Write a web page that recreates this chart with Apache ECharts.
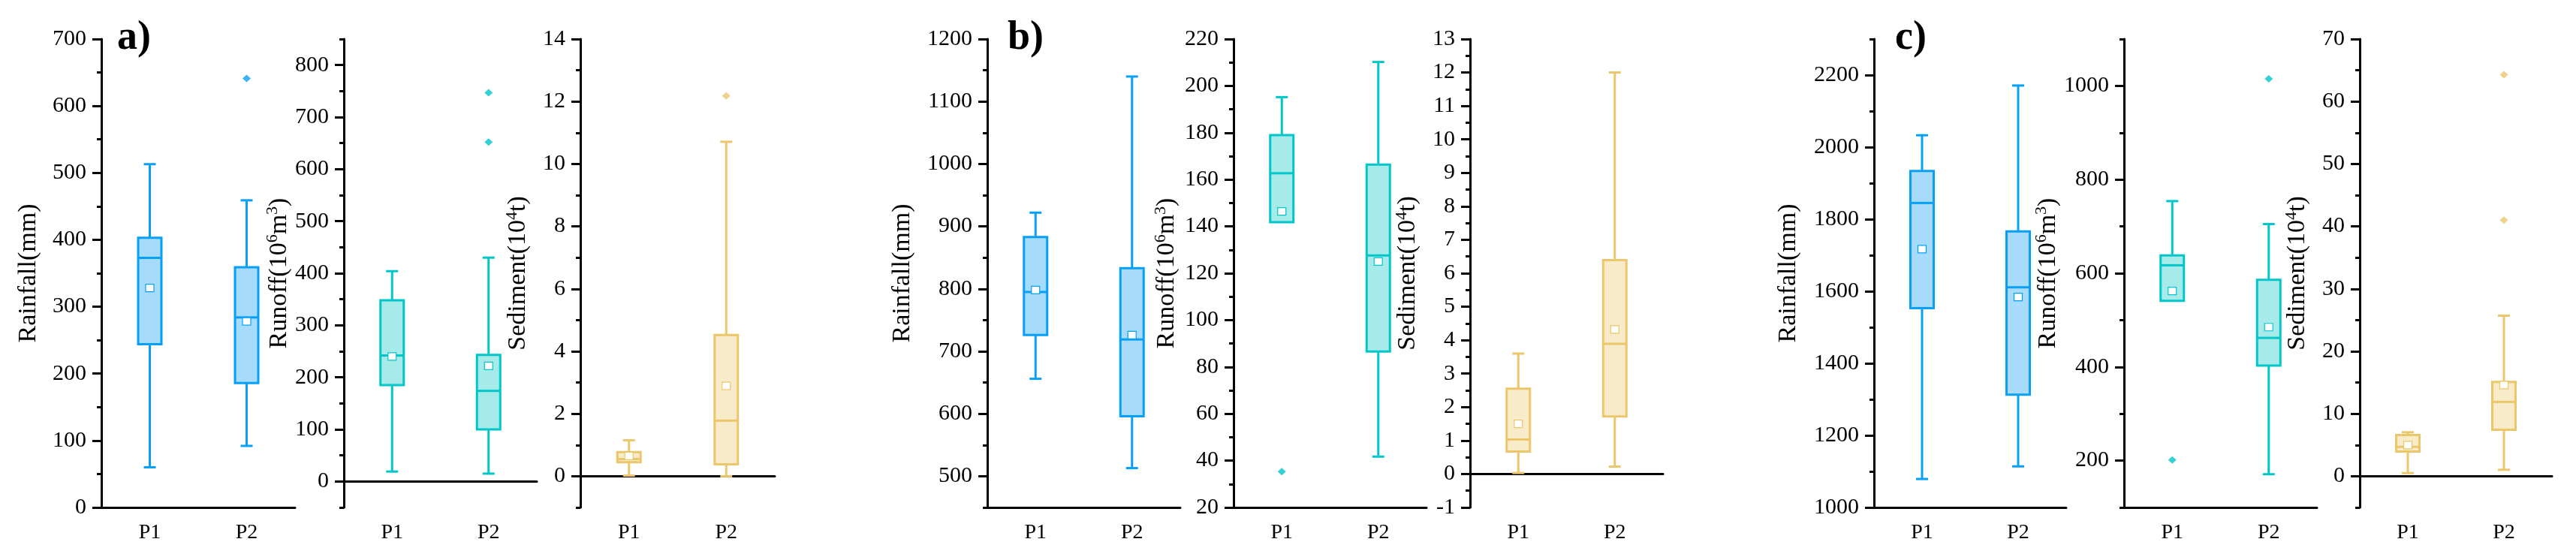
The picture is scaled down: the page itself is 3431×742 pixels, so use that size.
<!DOCTYPE html>
<html><head><meta charset="utf-8">
<script src="https://cdn.jsdelivr.net/npm/echarts@6/dist/echarts.min.js"></script>
<style>html,body{margin:0;padding:0;background:#fff}#c{width:3431px;height:742px}</style>
</head><body><div id="c"></div>
<script>
const categories = ['P1', 'P2'];

// box statistics: [min, Q1, median, Q3, max]
const rainfallA = [[60, 244, 373, 403, 513], [92, 186, 284, 359, 459]];
const rainfallAMean = [328, 278];
const rainfallAOutliers = [[], [641]];
const runoffA = [[19, 185, 242, 348, 404], [15, 100, 174, 243, 430]];
const runoffAMean = [240, 222];
const runoffAOutliers = [[], [652, 747]];
const sedimentA = [[0.02, 0.45, 0.55, 0.77, 1.15], [0.0, 0.38, 1.78, 4.52, 10.71]];
const sedimentAMean = [0.65, 2.89];
const sedimentAOutliers = [[], [12.18]];

const rainfallB = [[656, 726, 795, 883, 922], [513, 596, 719, 833, 1140]];
const rainfallBMean = [798, 726];
const rainfallBOutliers = [[], []];
const runoffB = [[141.8, 141.8, 162.7, 179, 195.2], [41.7, 86.6, 127.6, 166.4, 210.2]];
const runoffBMean = [146.4, 125];
const runoffBOutliers = [[35.3], []];
const sedimentB = [[0.03, 0.67, 1.03, 2.55, 3.6], [0.22, 1.72, 3.89, 6.39, 12.0]];
const sedimentBMean = [1.5, 4.32];
const sedimentBOutliers = [[], []];

const rainfallC = [[1079, 1553, 1845, 1934, 2033], [1114, 1313, 1611, 1766, 2171]];
const rainfallCMean = [1717, 1584];
const rainfallCOutliers = [[], []];
const runoffC = [[541, 541, 617, 638, 754], [171, 403, 462, 586, 705]];
const runoffCMean = [562, 485];
const runoffCOutliers = [[201.5], [1015]];
const sedimentC = [[0.5, 3.95, 4.7, 6.59, 7.04], [1.03, 7.45, 11.9, 15.1, 25.7]];
const sedimentCMean = [5.0, 14.6];
const sedimentCOutliers = [[], [41.0, 64.3]];

// axis tick labels (major ticks)
const rainfallATicks = [0, 100, 200, 300, 400, 500, 600, 700];
const runoffATicks = [0, 100, 200, 300, 400, 500, 600, 700, 800];
const sedimentATicks = [0, 2, 4, 6, 8, 10, 12, 14];
const rainfallBTicks = [500, 600, 700, 800, 900, 1000, 1100, 1200];
const runoffBTicks = [20, 40, 60, 80, 100, 120, 140, 160, 180, 200, 220];
const sedimentBTicks = [-1, 0, 1, 2, 3, 4, 5, 6, 7, 8, 9, 10, 11, 12, 13];
const rainfallCTicks = [1000, 1200, 1400, 1600, 1800, 2000, 2200];
const runoffCTicks = [200, 400, 600, 800, 1000];
const sedimentCTicks = [0, 10, 20, 30, 40, 50, 60, 70];

const panelLabels = ['a)', 'b)', 'c)'];
const axisNames = {
  rain: 'Rainfall(mm)',
  runoff: '{a|Runoff(10}{s|6}{a|m}{s|3}{a|)}',
  sed: '{a|Sediment(10}{s|4}{a|t)}'
};

const FONT = '"Liberation Serif", "Times New Roman", serif';
const COL = {
  rain: { stroke: '#08a0f7', fill: '#a6dbfc' },
  runoff: { stroke: '#00c6c9', fill: '#a6ebea' },
  sed: { stroke: '#ecc66b', fill: '#f7ebc9' }
};

const panels = [
  { kind: 'rain', stats: rainfallA, mean: rainfallAMean, out: rainfallAOutliers, ticks: rainfallATicks, min: 0, max: 700, minor: 50, left: 135, width: 258, gap: 80 },
  { kind: 'runoff', stats: runoffA, mean: runoffAMean, out: runoffAOutliers, ticks: runoffATicks, min: -50, max: 850, minor: 50, left: 458, width: 257, gap: 64 },
  { kind: 'sed', stats: sedimentA, mean: sedimentAMean, out: sedimentAOutliers, ticks: sedimentATicks, min: -1, max: 14, minor: 1, left: 773, width: 259, gap: 63 },
  { kind: 'rain', stats: rainfallB, mean: rainfallBMean, out: rainfallBOutliers, ticks: rainfallBTicks, min: 450, max: 1200, minor: 50, left: 1315, width: 257, gap: 96 },
  { kind: 'runoff', stats: runoffB, mean: runoffBMean, out: runoffBOutliers, ticks: runoffBTicks, min: 20, max: 220, minor: 10, left: 1643, width: 257, gap: 69 },
  { kind: 'sed', stats: sedimentB, mean: sedimentBMean, out: sedimentBOutliers, ticks: sedimentBTicks, min: -1, max: 13, minor: 0.5, left: 1958, width: 257, gap: 63 },
  { kind: 'rain', stats: rainfallC, mean: rainfallCMean, out: rainfallCOutliers, ticks: rainfallCTicks, min: 1000, max: 2300, minor: 100, left: 2496, width: 256, gap: 97 },
  { kind: 'runoff', stats: runoffC, mean: runoffCMean, out: runoffCOutliers, ticks: runoffCTicks, min: 100, max: 1100, minor: 100, left: 2829, width: 257, gap: 74 },
  { kind: 'sed', stats: sedimentC, mean: sedimentCMean, out: sedimentCOutliers, ticks: sedimentCTicks, min: -5, max: 70, minor: 5, left: 3143, width: 256, gap: 63 }
];

function boxRender(stroke, fill) {
  return function (params, api) {
    const c = api.value(0);
    const mn = api.value(1), q1 = api.value(2), md = api.value(3), q3 = api.value(4), mx = api.value(5), mean = api.value(6);
    const x = api.coord([c, md])[0];
    const y = v => api.coord([c, v])[1];
    const bw = 31, cw = 16;
    const ls = { stroke: stroke, lineWidth: 3 };
    const ch = [];
    if (mx > q3) {
      ch.push({ type: 'line', shape: { x1: x, y1: y(q3), x2: x, y2: y(mx) }, style: ls });
      ch.push({ type: 'line', shape: { x1: x - cw / 2, y1: y(mx), x2: x + cw / 2, y2: y(mx) }, style: ls });
    }
    if (mn < q1) {
      ch.push({ type: 'line', shape: { x1: x, y1: y(q1), x2: x, y2: y(mn) }, style: ls });
      ch.push({ type: 'line', shape: { x1: x - cw / 2, y1: y(mn), x2: x + cw / 2, y2: y(mn) }, style: ls });
    }
    ch.push({ type: 'rect', shape: { x: x - bw / 2, y: y(q3), width: bw, height: y(q1) - y(q3) }, style: { fill: fill, stroke: stroke, lineWidth: 3 } });
    ch.push({ type: 'line', shape: { x1: x - bw / 2, y1: y(md), x2: x + bw / 2, y2: y(md) }, style: ls });
    ch.push({ type: 'rect', shape: { x: x - 5.5, y: y(mean) - 5, width: 11, height: 10 }, style: { fill: '#fff', stroke: stroke, lineWidth: 1.2 } });
    return { type: 'group', children: ch };
  };
}

const GRID_TOP = 52, GRID_BOTTOM = 66;
const grid = [], xAxis = [], yAxis = [], series = [];
panels.forEach((p, i) => {
  const col = COL[p.kind];
  grid.push({ left: p.left, width: p.width, top: GRID_TOP, bottom: GRID_BOTTOM, containLabel: false });
  xAxis.push({
    type: 'category', gridIndex: i, data: categories, boundaryGap: true,
    axisLine: { lineStyle: { color: '#000', width: 3 } },
    axisTick: { alignWithLabel: true, length: 11, lineStyle: { color: '#000', width: 3 } },
    axisLabel: { fontFamily: FONT, fontSize: 28, color: '#000', margin: 20 },
    splitLine: { show: false }
  });
  // minor ticks axis
  yAxis.push({
    type: 'value', gridIndex: i, min: p.min, max: p.max, interval: p.minor, position: 'left',
    axisLine: { show: false }, axisLabel: { show: false }, splitLine: { show: false },
    axisTick: { show: true, length: 6, lineStyle: { color: '#000', width: 3 } }
  });
  // main axis with major ticks and labels
  yAxis.push({
    type: 'value', gridIndex: i, min: p.min, max: p.max, position: 'left',
    name: axisNames[p.kind], nameLocation: 'middle', nameGap: p.gap,
    nameTextStyle: {
      fontFamily: FONT, fontSize: 34, color: '#000',
      rich: {
        a: { fontFamily: FONT, fontSize: 34, color: '#000' },
        s: { fontFamily: FONT, fontSize: 22, color: '#000', padding: [0, 0, 17, 0] }
      }
    },
    axisLine: { show: true, lineStyle: { color: '#000', width: 3 } },
    axisTick: { show: true, length: 12, customValues: p.ticks, lineStyle: { color: '#000', width: 3 } },
    axisLabel: { fontFamily: FONT, fontSize: 30, color: '#000', margin: 20, customValues: p.ticks, formatter: v => String(v) },
    splitLine: { show: false }
  });
  series.push({
    type: 'custom', xAxisIndex: i, yAxisIndex: 2 * i + 1,
    renderItem: boxRender(col.stroke, col.fill),
    encode: { x: 0, y: [1, 2, 3, 4, 5] },
    data: p.stats.map((s, k) => [k].concat(s, [p.mean[k]])),
    z: 3
  });
  const outs = [];
  p.out.forEach((arr, k) => arr.forEach(v => outs.push([k, v])));
  if (outs.length) {
    series.push({
      type: 'scatter', xAxisIndex: i, yAxisIndex: 2 * i + 1,
      symbol: 'diamond', symbolSize: [11, 10],
      itemStyle: { color: col.stroke }, data: outs, z: 4, silent: true
    });
  }
});

const title = panelLabels.map((t, k) => ({
  text: t, left: [156, 1342, 2524][k], top: 24, padding: 0,
  textStyle: { fontFamily: FONT, fontWeight: 'bold', fontSize: 54, color: '#000' }
}));

const chart = echarts.init(document.getElementById('c'), null, { renderer: 'canvas' });
chart.setOption({ animation: false, backgroundColor: '#fff', title, grid, xAxis, yAxis, series });
</script></body></html>
